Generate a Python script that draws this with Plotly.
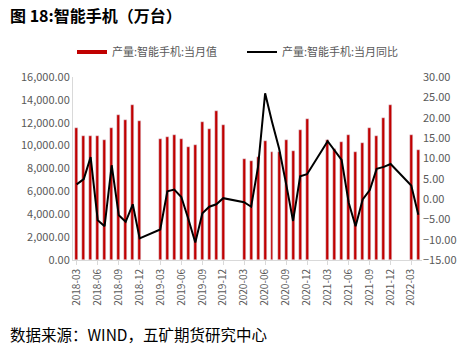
import plotly.graph_objects as go

months_2018 = ["2018-03", "2018-04", "2018-05", "2018-06", "2018-07", "2018-08", "2018-09", "2018-10", "2018-11", "2018-12"]
months_2019 = ["2019-03", "2019-04", "2019-05", "2019-06", "2019-07", "2019-08", "2019-09", "2019-10", "2019-11", "2019-12"]
months_2020 = ["2020-03", "2020-04", "2020-05", "2020-06", "2020-07", "2020-08", "2020-09", "2020-10", "2020-11", "2020-12"]
months_2021 = ["2021-03", "2021-04", "2021-05", "2021-06", "2021-07", "2021-08", "2021-09", "2021-10", "2021-11", "2021-12"]
months_2022 = ["2022-03", "2022-04"]
months = months_2018 + months_2019 + months_2020 + months_2021 + months_2022

output_value = [
    11580, 10820, 10850, 10820, 10500, 11580, 12710, 12280, 13530, 12160,
    10560, 10730, 10970, 10620, 9860, 10030, 12040, 11490, 13000, 11840,
    8840, 8640, 8990, 10380, 9450, 9400, 10470, 9570, 11340, 12300,
    10530, 9710, 10300, 10970, 9450, 10270, 11540, 10850, 12420, 13530,
    10970, 9600,
]
yoy = [
    3.6, 4.9, 10.3, -5.2, -6.7, 8.3, -4.0, -5.6, -1.3, -9.7,
    -7.5, 1.9, 2.3, 0.5, -4.8, -10.7, -3.5, -1.9, -1.3, 0.2,
    -0.8, -1.9, 7.9, 26.0, 19.0, 12.4, 3.6, -5.4, 5.6, 6.1,
    14.2, 12.0, 9.6, -0.9, -6.7, -0.1, 2.2, 7.4, 7.9, 8.6,
    3.3, -3.9,
]
tick_labels = ["2018-03", "2018-06", "2018-09", "2018-12", "2019-03", "2019-06", "2019-09", "2019-12",
               "2020-03", "2020-06", "2020-09", "2020-12", "2021-03", "2021-06", "2021-09", "2021-12", "2022-03"]
name_bar = "产量:智能手机:当月值"
name_line = "产量:智能手机:当月同比"

x_dates = [m + "-01" for m in months]
tick_vals = [t + "-01" for t in tick_labels]

RED = "#C00000"
GRAY = "#595959"
FONT = "Noto Sans CJK SC"
DAY_MS = 86400000

L, R, T, B = 73, 49, 77, 95
PW = 471 - L - R
PH = 355 - T - B

fig = go.Figure()
fig.add_trace(go.Bar(x=x_dates, y=output_value, name=name_bar, marker_color=RED,
                     width=[13 * DAY_MS] * len(x_dates), showlegend=False, yaxis="y"))
fig.add_trace(go.Scatter(x=x_dates, y=yoy, name=name_line, mode="lines",
                         line=dict(color="black", width=2), showlegend=False, yaxis="y2"))
# legend entries
fig.add_trace(go.Scatter(x=[None], y=[None], name=name_bar, mode="lines",
                         line=dict(color=RED, width=4), yaxis="y"))
fig.add_trace(go.Scatter(x=[None], y=[None], name=name_line, mode="lines",
                         line=dict(color="black", width=2), yaxis="y2"))

fig.update_layout(
    width=471, height=355,
    margin=dict(l=L, r=R, t=T, b=B, autoexpand=False),
    paper_bgcolor="white", plot_bgcolor="white",
    font=dict(family=FONT, color=GRAY, size=10),
    bargap=0,
    showlegend=True,
    legend=dict(orientation="h", xref="container", yref="container",
                x=72 / 471, y=1 - 52 / 355, xanchor="left", yanchor="middle",
                font=dict(size=11, color=GRAY, family=FONT),
                itemwidth=30, entrywidth=125, entrywidthmode="pixels",
                tracegroupgap=0, bgcolor="rgba(0,0,0,0)"),
    xaxis=dict(type="date", range=["2018-02-13", "2022-04-17"],
               tickvals=tick_vals, ticktext=tick_labels, tickangle=-90,
               showgrid=False, showline=True, linecolor="#D9D9D9", linewidth=1,
               ticks="outside", ticklen=4, tickcolor="#D9D9D9", automargin=False,
               tickfont=dict(size=10, color=GRAY)),
    yaxis=dict(range=[0, 16000], dtick=2000, tickformat=",.2f", showgrid=False,
               showline=True, linecolor="#D9D9D9", zeroline=False, automargin=False,
               tickfont=dict(size=11, color=GRAY)),
    yaxis2=dict(range=[-15, 30], dtick=5, tickformat=".2f", overlaying="y", side="right",
                showgrid=False, zeroline=False, showline=False, automargin=False,
                tickfont=dict(size=11, color=GRAY)),
    annotations=[
        dict(text="<b>图 18:智能手机（万台）</b>", xref="paper", yref="paper",
             x=-(L - 8) / PW, y=1 + (T - 15) / PH, xanchor="left", yanchor="middle", showarrow=False,
             font=dict(size=16, color="black", family=FONT)),
        dict(text="数据来源：WIND，五矿期货研究中心", xref="paper", yref="paper",
             x=-(L - 8) / PW, y=-(334 - (355 - B)) / PH, xanchor="left", yanchor="middle", showarrow=False,
             font=dict(size=15.5, color="black", family=FONT)),
    ],
)

fig.write_html("out.html", config={"displayModeBar": False},
               post_script="document.body.style.margin='0';document.body.style.overflow='hidden';")
